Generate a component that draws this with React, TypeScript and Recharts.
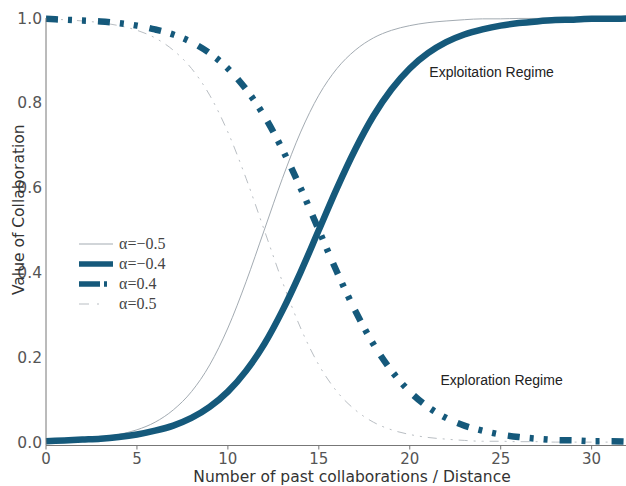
import React from "react";
import { LineChart, Line, XAxis, YAxis, ReferenceDot, Label } from "recharts";

// x: number of past collaborations / distance
const distance = [
  0, 1, 2, 3, 4, 5, 6, 7, 8, 9, 10, 11, 12, 13, 14, 15, 16, 17, 18, 19, 20,
  21, 22, 23, 24, 25, 26, 27, 28, 29, 30, 31, 32,
];

// value of collaboration for each alpha
const alphaNeg05 = [
  0.003, 0.004, 0.007, 0.011, 0.018, 0.029, 0.047, 0.076, 0.119, 0.182, 0.269,
  0.378, 0.5, 0.622, 0.731, 0.818, 0.881, 0.924, 0.953, 0.971, 0.982, 0.989,
  0.993, 0.996, 0.998, 0.998, 0.999, 0.999, 1, 1, 1, 1, 1,
];
const alphaNeg04 = [
  0.002, 0.004, 0.006, 0.008, 0.012, 0.018, 0.027, 0.039, 0.057, 0.083, 0.119,
  0.168, 0.231, 0.31, 0.401, 0.5, 0.599, 0.69, 0.769, 0.832, 0.881, 0.917,
  0.943, 0.961, 0.973, 0.982, 0.988, 0.992, 0.995, 0.996, 0.998, 0.998, 0.999,
];
const alphaPos04 = [
  0.998, 0.996, 0.994, 0.992, 0.988, 0.982, 0.973, 0.961, 0.943, 0.917, 0.881,
  0.832, 0.769, 0.69, 0.599, 0.5, 0.401, 0.31, 0.231, 0.168, 0.119, 0.083,
  0.057, 0.039, 0.027, 0.018, 0.012, 0.008, 0.005, 0.004, 0.002, 0.002, 0.001,
];
const alphaPos05 = [
  0.997, 0.996, 0.993, 0.989, 0.982, 0.971, 0.953, 0.924, 0.881, 0.818, 0.731,
  0.622, 0.5, 0.378, 0.269, 0.182, 0.119, 0.076, 0.047, 0.029, 0.018, 0.011,
  0.007, 0.004, 0.002, 0.002, 0.001, 0.001, 0, 0, 0, 0, 0,
];

const xTicks = [0, 5, 10, 15, 20, 25, 30];
const yTicks = [0, 0.2, 0.4, 0.6, 0.8, 1.0];

const seriesLabels = ["α=−0.5", "α=−0.4", "α=0.4", "α=0.5"];

const data = distance.map((d, i) => ({
  d,
  a1: alphaNeg05[i],
  a2: alphaNeg04[i],
  a3: alphaPos04[i],
  a4: alphaPos05[i],
}));

const DARK = "#15597b";
const THIN = "#a3abb2";
const THIN_DASH = "#b9bec3";
const SANS = "'DejaVu Sans', Verdana, sans-serif";
const NOTE = "'Liberation Sans', Arial, sans-serif";

const legendStyles = [
  { stroke: THIN, width: 1, dash: undefined },
  { stroke: DARK, width: 5.5, dash: undefined },
  { stroke: DARK, width: 5.5, dash: "21 4 3 20" },
  { stroke: THIN_DASH, width: 1, dash: "10 8 2 20" },
];

const LegendBox = () => (
  <div
    style={{
      position: "absolute",
      left: 79,
      top: 234,
      display: "flex",
      flexDirection: "column",
    }}
  >
    {seriesLabels.map((label, i) => {
      const s = legendStyles[i];
      return (
        <div
          key={label}
          style={{ height: 20, display: "flex", alignItems: "center" }}
        >
          <svg width={38} height={20} style={{ display: "block" }}>
            <line
              x1={0}
              y1={10}
              x2={34}
              y2={10}
              stroke={s.stroke}
              strokeWidth={s.width}
              strokeDasharray={s.dash}
            />
          </svg>
          <span
            style={{
              fontFamily: "'Liberation Serif', 'Times New Roman', serif",
              fontSize: 16,
              color: "#444",
              marginLeft: 2,
              lineHeight: "20px",
            }}
          >
            {label}
          </span>
        </div>
      );
    })}
  </div>
);

export default function App() {
  return (
    <div
      style={{
        position: "absolute",
        left: 0,
        top: 0,
        width: 626,
        height: 486,
        overflow: "hidden",
        background: "#fff",
      }}
    >
      <LineChart
        width={628}
        height={486}
        data={data}
        margin={{ top: 18, right: 0, bottom: 0, left: 0 }}
      >
        <XAxis
          dataKey="d"
          type="number"
          domain={[0, 32]}
          ticks={xTicks}
          stroke="#777"
          tickSize={4}
          tickMargin={4}
          height={40.5}
          tick={{ fill: "#555", fontSize: 15, fontFamily: SANS }}
          label={{
            value: "Number of past collaborations / Distance",
            position: "center",
            dx: 15,
            dy: 11,
            fill: "#333",
            fontSize: 15.5,
            fontFamily: SANS,
          }}
        />
        <YAxis
          type="number"
          domain={[-0.008, 1]}
          ticks={yTicks}
          tickFormatter={(v: number) => v.toFixed(1)}
          width={46}
          stroke="#777"
          tickLine={false}
          tickMargin={0}
          tick={{ fill: "#555", fontSize: 15.5, fontFamily: SANS, dx: 2 }}
          label={{
            value: "Value of Collaboration",
            angle: -90,
            position: "center",
            dx: -5,
            dy: -22,
            fill: "#333",
            fontSize: 15.5,
            fontFamily: SANS,
          }}
        />
        <Line
          dataKey="a1"
          type="monotone"
          stroke={THIN}
          strokeWidth={1}
          dot={false}
          isAnimationActive={false}
        />
        <Line
          dataKey="a4"
          type="monotone"
          stroke={THIN_DASH}
          strokeWidth={1}
          strokeDasharray="9 6 2 6 2 6"
          dot={false}
          isAnimationActive={false}
        />
        <Line
          dataKey="a2"
          type="monotone"
          stroke={DARK}
          strokeWidth={6.5}
          dot={false}
          isAnimationActive={false}
        />
        <Line
          dataKey="a3"
          type="monotone"
          stroke={DARK}
          strokeWidth={6.5}
          strokeDasharray="12 10 4 10 4 12"
          dot={false}
          isAnimationActive={false}
        />
        <ReferenceDot x={24.5} y={0.873} r={1} fill="none" stroke="none">
          <Label
            value="Exploitation Regime"
            position="center"
            fill="#222"
            fontSize={14}
            fontFamily={NOTE}
          />
        </ReferenceDot>
        <ReferenceDot x={25.05} y={0.146} r={1} fill="none" stroke="none">
          <Label
            value="Exploration Regime"
            position="center"
            fill="#222"
            fontSize={14}
            fontFamily={NOTE}
          />
        </ReferenceDot>
      </LineChart>
      <LegendBox />
    </div>
  );
}
